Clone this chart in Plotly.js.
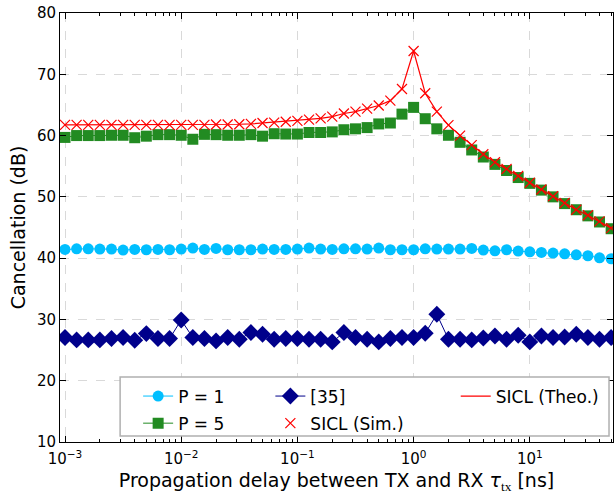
<!DOCTYPE html>
<html>
<head>
<meta charset="utf-8">
<script src="https://cdn.plot.ly/plotly-3.0.1.min.js"></script>
<style>html,body{margin:0;padding:0;background:#fff}#chart{width:615px;height:494px}</style>
</head>
<body>
<div id="chart"></div>
<script>
// Propagation delay [ns]
const delays = [
  0.001, 0.001259, 0.001585, 0.001995, 0.002512, 0.003162, 0.003981, 0.005012, 0.00631, 0.007943,
  0.01, 0.01259, 0.01585, 0.01995, 0.02512, 0.03162, 0.03981, 0.05012, 0.0631, 0.07943,
  0.1, 0.1259, 0.1585, 0.1995, 0.2512, 0.3162, 0.3981, 0.5012, 0.631, 0.7943,
  1, 1.259, 1.585, 1.995, 2.512, 3.162, 3.981, 5.012, 6.31, 7.943,
  10, 12.59, 15.85, 19.95, 25.12, 31.62, 39.81, 50.12
];
const p1 = [
  41.42, 41.53, 41.53, 41.48, 41.48, 41.31, 41.42, 41.37, 41.42, 41.37,
  41.48, 41.64, 41.42, 41.58, 41.37, 41.37, 41.37, 41.48, 41.42, 41.42,
  41.48, 41.64, 41.48, 41.42, 41.53, 41.53, 41.48, 41.64, 41.37, 41.37,
  41.37, 41.53, 41.48, 41.48, 41.48, 41.58, 41.31, 41.2, 41.37, 41.15,
  41.04, 40.93, 40.82, 40.71, 40.55, 40.39, 40.06, 39.9
];
const p5 = [
  59.7, 60.0, 60.0, 60.0, 60.05, 60.05, 59.65, 59.9, 60.15, 60.15,
  60.05, 59.4, 60.2, 60.15, 60.05, 60.05, 60.15, 59.9, 60.3, 60.25,
  60.25, 60.5, 60.5, 60.6, 60.95, 61.1, 61.3, 61.9, 62.05, 63.5,
  64.6, 62.75, 61.1, 60.05, 58.9, 57.65, 56.5, 55.3, 54.3, 53.15,
  52.2, 51.1, 50.0, 48.9, 47.9, 46.9, 45.9, 44.8
];
const ref35 = [
  27.04, 26.66, 26.66, 26.66, 26.88, 27.04, 26.6, 27.69, 26.88, 26.88,
  29.9, 27.04, 26.88, 26.5, 27.04, 26.77, 27.86, 27.58, 26.77, 26.88,
  26.88, 26.77, 26.77, 26.33, 27.86, 27.04, 26.77, 26.33, 26.88, 27.04,
  27.04, 27.75, 30.84, 26.77, 26.77, 26.66, 26.98, 27.3, 26.77, 27.42,
  26.33, 27.3, 27.04, 27.14, 27.58, 27.04, 26.77, 27.04
];
const sicl_sim = [
  61.75, 61.75, 61.75, 61.75, 61.75, 61.75, 61.75, 61.75, 61.75, 61.75,
  61.75, 61.75, 61.75, 61.8, 61.8, 61.85, 61.9, 62.05, 62.1, 62.25,
  62.4, 62.6, 62.8, 63.1, 63.6, 63.9, 64.4, 64.9, 65.7, 67.6,
  73.8, 66.9, 63.9, 61.7, 60.0, 58.45, 56.95, 55.65, 54.55, 53.4,
  52.3, 51.2, 50.1, 49.0, 47.9, 47.0, 46.0, 44.9
];
const sicl_theo = [
  61.75, 61.75, 61.75, 61.75, 61.75, 61.75, 61.75, 61.75, 61.75, 61.75,
  61.75, 61.75, 61.75, 61.8, 61.8, 61.85, 61.9, 62.05, 62.1, 62.25,
  62.4, 62.6, 62.8, 63.1, 63.6, 63.9, 64.4, 64.9, 65.7, 67.6,
  73.8, 66.9, 63.9, 61.7, 60.0, 58.45, 56.95, 55.65, 54.55, 53.4,
  52.3, 51.2, 50.1, 49.0, 47.9, 47.0, 46.0, 44.9
];
const xTickVals = [0.001, 0.01, 0.1, 1, 10];
const xTickText = ['10<sup>−3</sup>', '10<sup>−2</sup>', '10<sup>−1</sup>', '10<sup>0</sup>', '10<sup>1</sup>'];
const yTickVals = [10, 20, 30, 40, 50, 60, 70, 80];

const FONT = 'DejaVu Sans, sans-serif';

const traces = [
  {x: delays, y: p1, name: 'P = 1', mode: 'lines+markers', legend: 'legend', legendgroup: 'a',
   line: {color: '#00BFFF', width: 1}, marker: {symbol: 'circle', size: 11, color: '#00BFFF'}},
  {x: delays, y: p5, name: 'P = 5', mode: 'lines+markers', legend: 'legend', legendgroup: 'b',
   line: {color: '#228B22', width: 1}, marker: {symbol: 'square', size: 11, color: '#228B22'}},
  {x: delays, y: ref35, name: '[35]', mode: 'lines+markers', legend: 'legend2', legendgroup: 'c',
   line: {color: '#00008B', width: 1}, marker: {symbol: 'diamond', size: 13, color: '#00008B'}},
  {x: delays, y: sicl_sim, name: 'SICL (Sim.)', mode: 'markers', legend: 'legend2', legendgroup: 'd',
   marker: {symbol: 'x-thin', size: 10, color: '#FF0000', line: {color: '#FF0000', width: 1.2}}},
  {x: delays, y: sicl_theo, name: 'SICL (Theo.)', mode: 'lines', legend: 'legend3', legendgroup: 'e',
   line: {color: '#FF0000', width: 1.2}}
];

const legBase = {
  bgcolor: 'rgba(0,0,0,0)', borderwidth: 0, font: {family: FONT, size: 17, color: '#000'},
  orientation: 'v', xanchor: 'left', yanchor: 'top', y: 0.148, traceorder: 'grouped', tracegroupgap: 2
};

const layout = {
  width: 615, height: 494,
  margin: {l: 60, r: 2, t: 13, b: 52},
  paper_bgcolor: '#fff', plot_bgcolor: '#fff',
  font: {family: FONT, color: '#000'},
  showlegend: true,
  legend: Object.assign({}, legBase, {x: 0.1413}),
  legend2: Object.assign({}, legBase, {x: 0.3804}),
  legend3: Object.assign({}, legBase, {x: 0.7156}),
  xaxis: {
    type: 'log', range: [-3.043, 1.716],
    tickvals: xTickVals, ticktext: xTickText,
    tickfont: {family: FONT, size: 15}, ticklabelstandoff: 3,
    ticks: 'inside', ticklen: 6, tickcolor: '#000', tickwidth: 1,
    minor: {ticks: 'inside', ticklen: 3, tickcolor: '#000', dtick: 'D1', showgrid: false},
    showline: true, linecolor: '#000', linewidth: 1, mirror: 'ticks',
    showgrid: true, gridcolor: '#d9d9d9', griddash: 'dash', gridwidth: 1,
    zeroline: false,
    title: {text: 'Propagation delay between TX and RX <i>τ</i><sub><span style="font-family:Liberation Serif">tx</span></sub> [ns]', font: {family: FONT, size: 19}, standoff: 7}
  },
  yaxis: {
    range: [10, 80], tickvals: yTickVals,
    tickfont: {family: FONT, size: 15},
    ticks: 'inside', ticklen: 6, tickcolor: '#000', tickwidth: 1,
    showline: true, linecolor: '#000', linewidth: 1, mirror: 'ticks',
    showgrid: true, gridcolor: '#d9d9d9', griddash: 'dash', gridwidth: 1,
    zeroline: false,
    title: {text: 'Cancellation (dB)', font: {family: FONT, size: 19}, standoff: 6}
  },
  shapes: [{
    type: 'rect', xref: 'paper', yref: 'paper', layer: 'above',
    x0: 0.1087, x1: 0.9928, y0: 0.014, y1: 0.1515,
    line: {color: '#b0b0b0', width: 1.5}, fillcolor: '#fff'
  }]
};

Plotly.newPlot('chart', traces, layout, {displayModeBar: false, staticPlot: true});
</script>
</body>
</html>
